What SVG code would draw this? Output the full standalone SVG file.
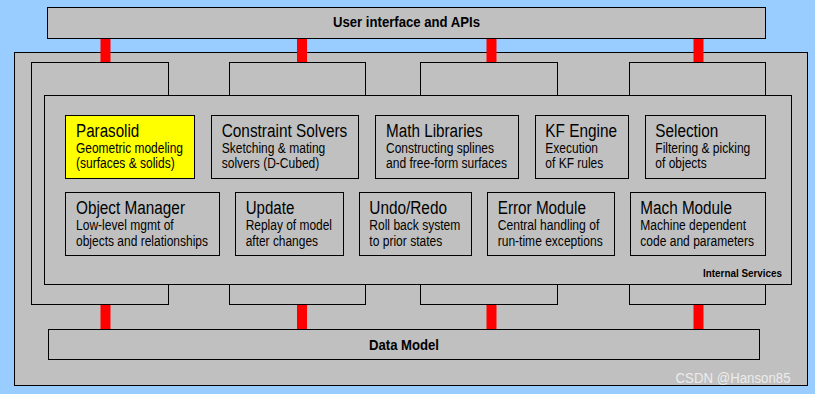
<svg xmlns="http://www.w3.org/2000/svg" width="815" height="394" viewBox="0 0 815 394">
<style>
.box{fill:#C0C0C0;stroke:#000;stroke-width:1}
.yel{fill:#FFFF00;stroke:#000;stroke-width:1}
.t{font-family:"Liberation Sans Narrow","Arial Narrow","Liberation Sans",Arial,sans-serif;fill:#000}
.ttl{font-size:18px}
.sub{font-size:14px}
.bold{font-family:"Liberation Sans Narrow","Arial Narrow","Liberation Sans",Arial,sans-serif;font-weight:bold;fill:#000}
.bar{fill:#FF0000}
</style>
<rect x="0" y="0" width="815" height="394" fill="#99CCFF"/>
<g id="outer"><rect class="box" x="14.5" y="52.5" width="793" height="333"/></g>
<g id="columns">
<rect class="box" x="31.5" y="62.5" width="137" height="242"/>
<rect class="box" x="229.5" y="62.5" width="136" height="242"/>
<rect class="box" x="420.5" y="62.5" width="137" height="242"/>
<rect class="box" x="629.5" y="62.5" width="136" height="242"/>
</g>
<g id="internal-services">
<rect class="box" x="44.5" y="95.5" width="747" height="189"/>
<text class="bold" x="782" y="276.5" font-size="10" text-anchor="end" textLength="79" lengthAdjust="spacingAndGlyphs">Internal Services</text>
</g>
<g id="parasolid">
<rect class="yel" x="65.5" y="115.5" width="129" height="63"/>
<text class="t ttl" x="76" y="136.7" textLength="63.3" lengthAdjust="spacingAndGlyphs">Parasolid</text>
<text class="t sub" x="76" y="152.7" textLength="107" lengthAdjust="spacingAndGlyphs">Geometric modeling</text>
<text class="t sub" x="76" y="168.3" textLength="98.7" lengthAdjust="spacingAndGlyphs">(surfaces &amp; solids)</text>
</g>
<g id="constraint-solvers">
<rect class="box" x="211.5" y="115.5" width="147" height="63"/>
<text class="t ttl" x="221.7" y="136.7" textLength="125.6" lengthAdjust="spacingAndGlyphs">Constraint Solvers</text>
<text class="t sub" x="221.7" y="152.7" textLength="103.6" lengthAdjust="spacingAndGlyphs">Sketching &amp; mating</text>
<text class="t sub" x="221.7" y="168.3" textLength="97.6" lengthAdjust="spacingAndGlyphs">solvers (D-Cubed)</text>
</g>
<g id="math-libraries">
<rect class="box" x="375.5" y="115.5" width="143" height="63"/>
<text class="t ttl" x="386" y="136.7" textLength="96.7" lengthAdjust="spacingAndGlyphs">Math Libraries</text>
<text class="t sub" x="386" y="152.7" textLength="108" lengthAdjust="spacingAndGlyphs">Constructing splines</text>
<text class="t sub" x="386" y="168.3" textLength="121" lengthAdjust="spacingAndGlyphs">and free-form surfaces</text>
</g>
<g id="kf-engine">
<rect class="box" x="535.5" y="115.5" width="93" height="63"/>
<text class="t ttl" x="545.3" y="136.7" textLength="71.7" lengthAdjust="spacingAndGlyphs">KF Engine</text>
<text class="t sub" x="545.3" y="152.7" textLength="52.7" lengthAdjust="spacingAndGlyphs">Execution</text>
<text class="t sub" x="545.3" y="168.3" textLength="58" lengthAdjust="spacingAndGlyphs">of KF rules</text>
</g>
<g id="selection">
<rect class="box" x="645.5" y="115.5" width="120" height="63"/>
<text class="t ttl" x="655.3" y="136.7" textLength="63" lengthAdjust="spacingAndGlyphs">Selection</text>
<text class="t sub" x="655.3" y="152.7" textLength="95" lengthAdjust="spacingAndGlyphs">Filtering &amp; picking</text>
<text class="t sub" x="655.3" y="168.3" textLength="51.4" lengthAdjust="spacingAndGlyphs">of objects</text>
</g>
<g id="object-manager">
<rect class="box" x="65.5" y="192.5" width="154" height="63"/>
<text class="t ttl" x="76" y="213.5" textLength="109" lengthAdjust="spacingAndGlyphs">Object Manager</text>
<text class="t sub" x="76" y="230" textLength="97.7" lengthAdjust="spacingAndGlyphs">Low-level mgmt of</text>
<text class="t sub" x="76" y="245.7" textLength="132" lengthAdjust="spacingAndGlyphs">objects and relationships</text>
</g>
<g id="update">
<rect class="box" x="235.5" y="192.5" width="108" height="63"/>
<text class="t ttl" x="245.7" y="213.5" textLength="48.6" lengthAdjust="spacingAndGlyphs">Update</text>
<text class="t sub" x="245.7" y="230" textLength="86.3" lengthAdjust="spacingAndGlyphs">Replay of model</text>
<text class="t sub" x="245.7" y="245.7" textLength="72.3" lengthAdjust="spacingAndGlyphs">after changes</text>
</g>
<g id="undo-redo">
<rect class="box" x="359.5" y="192.5" width="112" height="63"/>
<text class="t ttl" x="369.3" y="213.5" textLength="77.7" lengthAdjust="spacingAndGlyphs">Undo/Redo</text>
<text class="t sub" x="369.3" y="230" textLength="91" lengthAdjust="spacingAndGlyphs">Roll back system</text>
<text class="t sub" x="369.3" y="245.7" textLength="73" lengthAdjust="spacingAndGlyphs">to prior states</text>
</g>
<g id="error-module">
<rect class="box" x="487.5" y="192.5" width="127" height="63"/>
<text class="t ttl" x="497.7" y="213.5" textLength="88.3" lengthAdjust="spacingAndGlyphs">Error Module</text>
<text class="t sub" x="497.7" y="230" textLength="101.6" lengthAdjust="spacingAndGlyphs">Central handling of</text>
<text class="t sub" x="497.7" y="245.7" textLength="105" lengthAdjust="spacingAndGlyphs">run-time exceptions</text>
</g>
<g id="mach-module">
<rect class="box" x="630.5" y="192.5" width="135" height="63"/>
<text class="t ttl" x="640.3" y="213.5" textLength="91.7" lengthAdjust="spacingAndGlyphs">Mach Module</text>
<text class="t sub" x="640.3" y="230" textLength="105.7" lengthAdjust="spacingAndGlyphs">Machine dependent</text>
<text class="t sub" x="640.3" y="245.7" textLength="113.7" lengthAdjust="spacingAndGlyphs">code and parameters</text>
</g>
<g id="user-interface">
<rect class="box" x="47.5" y="7.5" width="718" height="31"/>
<text class="bold" x="406.5" y="27" font-size="14" text-anchor="middle" textLength="147" lengthAdjust="spacingAndGlyphs">User interface and APIs</text>
</g>
<g id="data-model">
<rect class="box" x="48.5" y="329.5" width="711" height="30"/>
<text class="bold" x="404" y="349.5" font-size="14" text-anchor="middle" textLength="70" lengthAdjust="spacingAndGlyphs">Data Model</text>
</g>
<g id="connectors">
<rect class="bar" x="100.5" y="39" width="10" height="23"/>
<rect class="bar" x="297" y="39" width="10" height="23"/>
<rect class="bar" x="486.5" y="39" width="10" height="23"/>
<rect class="bar" x="693.5" y="39" width="10" height="23"/>
<rect class="bar" x="100.5" y="305" width="10" height="24"/>
<rect class="bar" x="297" y="305" width="10" height="24"/>
<rect class="bar" x="486.5" y="305" width="10" height="24"/>
<rect class="bar" x="693.5" y="305" width="10" height="24"/>
</g>
<text x="790.5" y="382.5" font-family="'Liberation Sans Narrow','Arial Narrow','Liberation Sans',sans-serif" font-size="14" fill="#ececec" text-anchor="end" textLength="115" lengthAdjust="spacingAndGlyphs">CSDN @Hanson85</text>
</svg>
